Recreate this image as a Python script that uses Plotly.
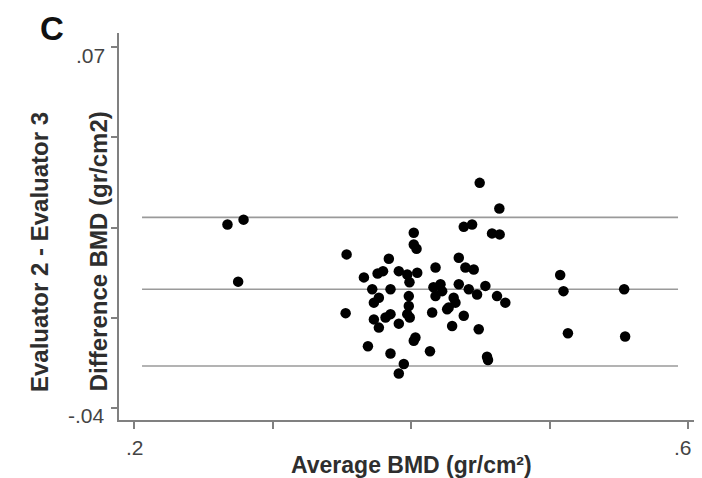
import plotly.graph_objects as go

# Bland-Altman data: average BMD vs difference (Evaluator 2 - Evaluator 3)
avg_bmd = [
    0.2675, 0.2791, 0.2752,
    0.3535, 0.3528, 0.3660, 0.3689, 0.3720, 0.3732, 0.3768, 0.3759, 0.3798,
    0.3732, 0.3768, 0.3816, 0.3852, 0.3912, 0.3840, 0.3852, 0.3852, 0.3912,
    0.3973, 0.4045, 0.4020, 0.4020, 0.4040, 0.3984, 0.3984, 0.3973, 0.3991,
    0.3989, 0.4032, 0.4020, 0.3948, 0.3912,
    0.4162, 0.4213, 0.4225, 0.4177, 0.4345, 0.4308, 0.4321, 0.4272, 0.4417,
    0.4477, 0.4537, 0.4621, 0.4681, 0.4153, 0.4261, 0.4381, 0.4297, 0.4489,
    0.4137, 0.4549, 0.4556, 0.4496, 0.4638, 0.4381, 0.4441, 0.4585, 0.4640,
    0.4345, 0.4177, 0.4393, 0.4453,
    0.5077, 0.5101, 0.5133, 0.5539, 0.5546,
]
diff_bmd = [
    0.0159, 0.0174, -0.0015,
    0.0068, -0.0111, -0.0002, -0.0212, -0.0038, -0.0079, -0.0064, 0.0010, 0.0017,
    -0.0130, -0.0155, -0.0124, -0.0114, -0.0143, 0.0055, -0.0038, -0.0234, 0.0017,
    0.0007, 0.0012, 0.0134, 0.0098, 0.0085, -0.0059, -0.0089, -0.0114, -0.0124,
    -0.0017, -0.0185, -0.0195, -0.0266, -0.0295,
    -0.0032, -0.0023, -0.0044, -0.0059, -0.0023, -0.0064, -0.0079, -0.0094, -0.0038,
    -0.0054, -0.0028, -0.0059, -0.0079, -0.0109, -0.0099, -0.0119, -0.0150, -0.0160,
    -0.0227, -0.0244, -0.0254, 0.0286, 0.0208, 0.0152, 0.0159, 0.0132, 0.0129,
    0.0058, 0.0028, 0.0028, 0.0022,
    0.0005, -0.0044, -0.0172, -0.0038, -0.0182,
]

# Mean difference and limits of agreement
limit_values = [0.0181, -0.0038, -0.0272]
limit_x_span = [0.2058, 0.5928]

x_ticks = [0.2, 0.3, 0.4, 0.5, 0.6]
x_tick_labels = [".2", "", "", "", ".6"]
y_ticks = [-0.04, -0.0125, 0.015, 0.0425, 0.07]
y_tick_labels = ["-.04", "", "", "", ".07"]

x_title = "Average BMD (gr/cm²)"
y_title_1 = "Evaluator 2 - Evaluator 3"
y_title_2 = "Difference BMD (gr/cm2)"
panel_label = "C"

fig = go.Figure()

for lv in limit_values:
    fig.add_trace(go.Scatter(
        x=limit_x_span, y=[lv, lv], mode="lines",
        line=dict(color="#9a9a9a", width=1.6),
        hoverinfo="skip", showlegend=False,
    ))

fig.add_trace(go.Scatter(
    x=avg_bmd, y=diff_bmd, mode="markers",
    marker=dict(color="#000000", size=10.5, line=dict(width=0)),
    showlegend=False,
))

font_main = "Liberation Sans, Arial, sans-serif"
axis_col = "#808080"

# page body has an 8px default margin, so the figure is sized to fit inside it
fig.update_layout(
    width=694, height=470,
    margin=dict(l=111, r=2, t=25, b=58),
    paper_bgcolor="white", plot_bgcolor="white",
    font=dict(family=font_main, color="#333333"),
    xaxis=dict(
        range=[0.18917, 0.60866], showgrid=False, zeroline=False,
        showline=True, linecolor=axis_col, linewidth=2,
        tickmode="array", tickvals=x_ticks, ticks="outside",
        ticklen=7, tickwidth=1.5, tickcolor=axis_col, showticklabels=False,
    ),
    yaxis=dict(
        range=[-0.04366, 0.07427], showgrid=False, zeroline=False,
        showline=True, linecolor=axis_col, linewidth=2,
        tickmode="array", tickvals=y_ticks, ticks="outside",
        ticklen=6, tickwidth=1.5, tickcolor=axis_col, showticklabels=False,
    ),
)

annotations = []
# y tick labels
for v, t in zip(y_ticks, y_tick_labels):
    if t:
        annotations.append(dict(
            text=t, x=0, xref="paper", y=v, yref="y",
            xanchor="right", yanchor="middle", xshift=-12, yshift=-8,
            showarrow=False, font=dict(size=21, color="#444444", family=font_main),
        ))
# x tick labels
for v, t in zip(x_ticks, x_tick_labels):
    if t:
        annotations.append(dict(
            text=t, x=v, xref="x", y=0, yref="paper",
            xanchor="center", yanchor="middle", yshift=-27,
            xshift=(1 if v == 0.2 else -5),
            showarrow=False, font=dict(size=21, color="#444444", family=font_main),
        ))
# axis titles
annotations.append(dict(
    text="<b>" + x_title + "</b>", x=0.5026, xref="paper", y=0, yref="paper",
    xanchor="center", yanchor="top", yshift=-31, showarrow=False,
    borderpad=0,
    font=dict(size=23, color="#2e2e2e", family=font_main),
))
annotations.append(dict(
    text="<b>" + y_title_1 + "</b>", x=0, xref="paper", y=0.434, yref="paper",
    xanchor="center", yanchor="middle", xshift=-80, textangle=-90, showarrow=False,
    font=dict(size=24, color="#2e2e2e", family=font_main),
))
annotations.append(dict(
    text="<b>" + y_title_2 + "</b>", x=0, xref="paper", y=0.436, yref="paper",
    xanchor="center", yanchor="middle", xshift=-21, textangle=-90, showarrow=False,
    font=dict(size=24, color="#2e2e2e", family=font_main),
))
annotations.append(dict(
    text="<b>" + panel_label + "</b>", x=0, xref="paper", y=1, yref="paper",
    xanchor="center", yanchor="middle", xshift=-67, yshift=5, showarrow=False,
    font=dict(size=33, color="#111111", family=font_main),
))
fig.update_layout(annotations=annotations)

fig.write_html("out.html")
